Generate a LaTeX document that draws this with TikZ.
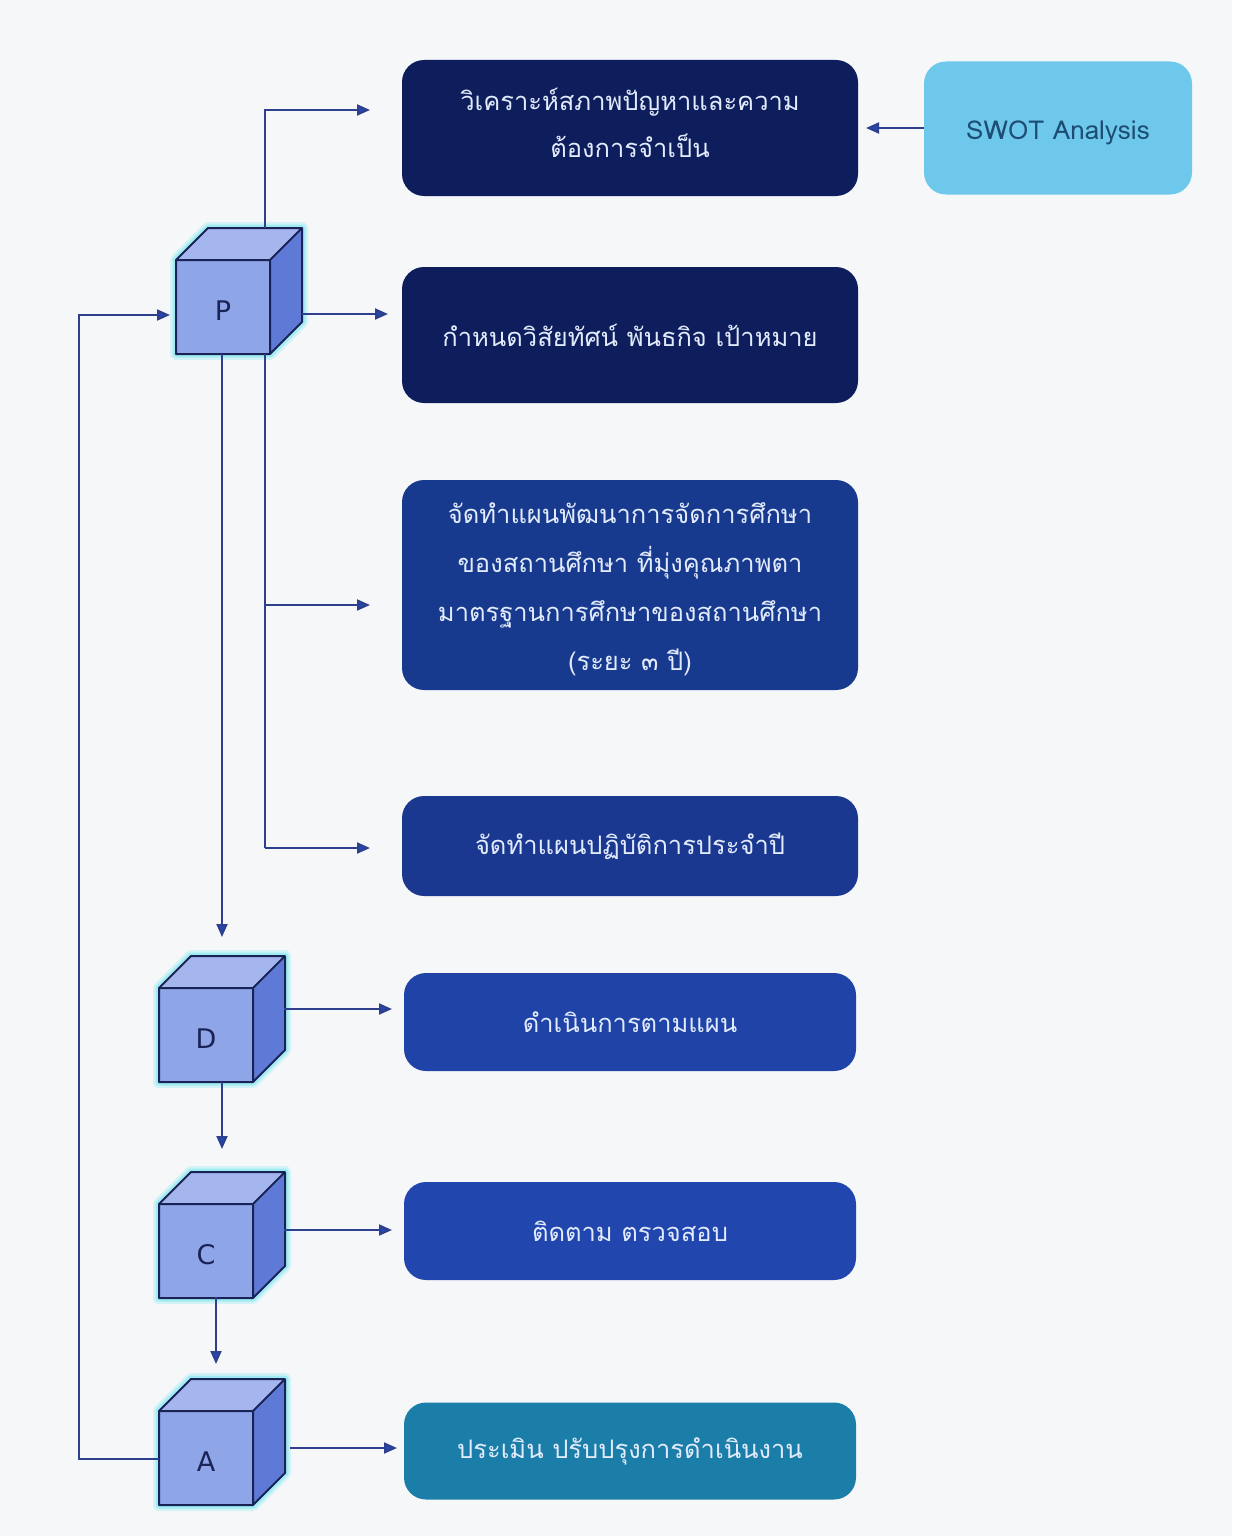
\documentclass[tikz,border=0pt]{standalone}
\usepackage{fontspec}
\usetikzlibrary{arrows.meta,calc}
\setmainfont{DejaVu Sans}
\newfontfamily\thaifont[Script=Thai]{Loma}
\definecolor{bgc}{HTML}{F6F7F9}
\definecolor{navyA}{HTML}{0E1E5C}
\definecolor{navyB}{HTML}{183A8E}
\definecolor{navyC}{HTML}{1A3890}
\definecolor{blueD}{HTML}{1F43A6}
\definecolor{blueE}{HTML}{2146AE}
\definecolor{tealF}{HTML}{1B7EA8}
\definecolor{swotc}{HTML}{6EC8EC}
\definecolor{swottext}{HTML}{1E4D74}
\definecolor{boxtext}{HTML}{E2EBFC}
\definecolor{linec}{HTML}{2E3F8E}
\definecolor{tipc}{HTML}{2447B0}
\definecolor{cfront}{HTML}{8EA5E8}
\definecolor{ctop}{HTML}{A5B6EE}
\definecolor{cright}{HTML}{5F7AD6}
\definecolor{cedge}{HTML}{1A2356}
\definecolor{cglow}{HTML}{7FE8F0}
\tikzset{
  box/.style={rounded corners=22pt, minimum width=456pt, align=center,
    text=boxtext, font=\thaifont\fontsize{25.5}{49}\selectfont, inner sep=0pt},
  conn/.style={draw=linec, line width=2pt, -{Triangle[length=13pt,width=11pt,fill=tipc]}},
  plain/.style={draw=linec, line width=2pt},
  cubelabel/.style={font=\fontsize{27}{30}\selectfont, text=cedge, minimum size=94pt, inner sep=0pt}
}
\newcommand{\pdcacube}[4]{%
  \begin{scope}[shift={(#2,#3)}]
    \draw[cglow, line width=12pt, opacity=0.3, line join=round]
      (-47,47) -- (-47,-47) -- (-15,-79) -- (79,-79) -- (79,15) -- (47,47) -- cycle;
    \draw[cglow, line width=7pt, opacity=0.6, line join=round]
      (-47,47) -- (-47,-47) -- (-15,-79) -- (79,-79) -- (79,15) -- (47,47) -- cycle;
    \fill[cfront] (-47,-47) rectangle (47,47);
    \fill[ctop] (-47,-47) -- (-15,-79) -- (79,-79) -- (47,-47) -- cycle;
    \fill[cright] (47,-47) -- (79,-79) -- (79,15) -- (47,47) -- cycle;
    \draw[cedge, line width=2pt, line join=round]
      (-47,47) -- (-47,-47) -- (-15,-79) -- (79,-79) -- (79,15) -- (47,47) -- cycle
      (-47,-47) -- (47,-47) -- (79,-79) (47,-47) -- (47,47);
  \end{scope}
  \node[cubelabel] (#1) at (#2,#3+4) {#4};
}
\begin{document}
\begin{tikzpicture}[x=1pt,y=-1pt]
\fill[bgc] (0,0) rectangle (1232,1536);
\useasboundingbox (0,0) rectangle (1232,1536);

% boxes
\node[box, fill=navyA, minimum height=136pt] (b1) at (630,128) {};
\node[text=boxtext, font=\thaifont\fontsize{25.5}{47}\selectfont, align=center, inner sep=0pt] (b1t) at (630,123) {วิเคราะห์สภาพปัญหาและความ\\ต้องการจำเป็น};
\node[box, fill=swotc, minimum width=268pt, minimum height=133pt] (swot) at (1058,128) {};
\node[text=swottext, font=\thaifont\fontsize{26}{30}\selectfont, inner sep=0pt] (swott) at (1058,133) {SWOT Analysis};
\node[box, fill=navyA, minimum height=136pt] (b2) at (630,335) {กำหนดวิสัยทัศน์ พันธกิจ เป้าหมาย};
\node[box, fill=navyB, minimum height=210pt] (b3) at (630,585) {};
\node[text=boxtext, font=\thaifont\fontsize{25.5}{49}\selectfont, align=center, inner sep=0pt] (b3t) at (630,589) {จัดทำแผนพัฒนาการจัดการศึกษา\\ของสถานศึกษา ที่มุ่งคุณภาพตา\\มาตรฐานการศึกษาของสถานศึกษา\\(ระยะ ๓ ปี)};
\node[box, fill=navyC, minimum height=100pt] (b4) at (630,846) {จัดทำแผนปฏิบัติการประจำปี};
\node[box, fill=blueD, minimum width=452pt, minimum height=98pt] (b5) at (630,1022) {ดำเนินการตามแผน};
\node[box, fill=blueE, minimum width=452pt, minimum height=98pt] (b6) at (630,1231) {ติดตาม ตรวจสอบ};
\node[box, fill=tealF, minimum width=452pt, minimum height=97pt] (b7) at (630,1451) {ประเมิน ปรับปรุงการดำเนินงาน};

% cubes
\pdcacube{P}{223}{307}{P}
\pdcacube{D}{206}{1035}{D}
\pdcacube{C}{206}{1251}{C}
\pdcacube{A}{206}{1458}{A}

% coordinates
\coordinate (Ptop) at (265,228);
\coordinate (Pbot) at (265,354);
\coordinate (Pright) at (302,314);
\coordinate (b1in) at (370,110);
\coordinate (b2in) at (388,314);
\coordinate (b3in) at (370,605);
\coordinate (b4in) at (370,848);
\coordinate (Dtop) at (222,937);
\coordinate (Ctop) at (222,1149);
\coordinate (Atop) at (216,1364);

% connectors
\draw[conn] (Ptop) |- (b1in);
\draw[conn] (Pright) -- (b2in);
\draw[plain] (Pbot) -- (265,848);
\draw[conn] (265,605) -- (b3in);
\draw[conn] (265,848) -- (b4in);
\draw[conn] (222,354) -- (Dtop);
\draw[conn] (284,1009) -- (392,1009);
\draw[conn] (222,1082) -- (Ctop);
\draw[conn] (284,1230) -- (392,1230);
\draw[conn] (216,1297) -- (Atop);
\draw[conn] (290,1448) -- (397,1448);
\draw[conn] (159,1459) -- (79,1459) -- (79,315) -- (170,315);
\draw[conn] (swot.west) -- (866,128);
\end{tikzpicture}
\end{document}
